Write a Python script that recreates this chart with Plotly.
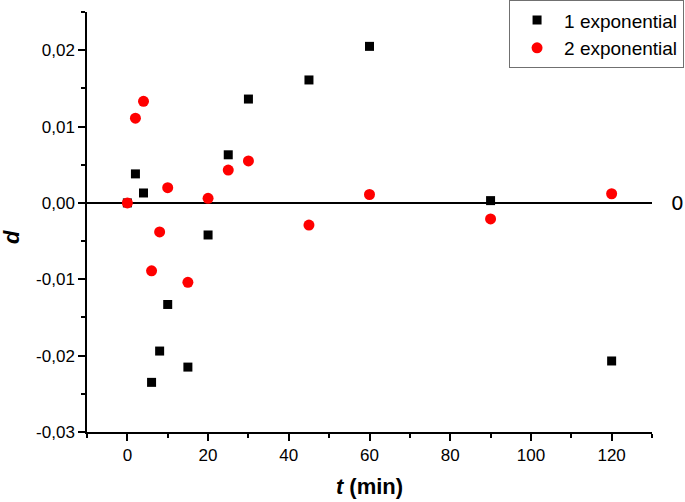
import plotly.graph_objects as go

t_min = [0, 2, 4, 6, 8, 10, 15, 20, 25, 30, 45, 60, 90, 120]
d_one_exp = [0.0, 0.0038, 0.0013, -0.0235, -0.0194, -0.0133, -0.0215, -0.0042,
             0.0063, 0.0136, 0.0161, 0.0205, 0.0003, -0.0207]
d_two_exp = [0.0, 0.0111, 0.0133, -0.0089, -0.0038, 0.0020, -0.0104, 0.0006,
             0.0043, 0.0055, -0.0029, 0.0011, -0.0021, 0.0012]

y_tickvals = [-0.03, -0.02, -0.01, 0.0, 0.01, 0.02]
y_ticktext = ["-0,03", "-0,02", "-0,01", "0,00", "0,01", "0,02"]
x_tickvals = [0, 20, 40, 60, 80, 100, 120]
x_ticktext = ["0", "20", "40", "60", "80", "100", "120"]

FONT = "Liberation Sans, Arial, sans-serif"

fig = go.Figure()
fig.add_trace(go.Scatter(
    x=t_min, y=d_one_exp, mode="markers", name="1 exponential",
    marker=dict(symbol="square", size=9, color="black", line=dict(width=0)),
))
fig.add_trace(go.Scatter(
    x=t_min, y=d_two_exp, mode="markers", name="2 exponential",
    marker=dict(symbol="circle", size=11, color="#ff0000", line=dict(width=0)),
))

fig.update_layout(
    width=685, height=502,
    margin=dict(l=87, r=33, t=12, b=70, autoexpand=False),
    paper_bgcolor="white", plot_bgcolor="white",
    font=dict(family=FONT, size=17, color="black"),
    showlegend=True,
    legend=dict(
        x=0.747, xref="paper", y=1.028, yref="paper",
        xanchor="left", yanchor="top",
        bgcolor="white", bordercolor="#707070", borderwidth=1,
        font=dict(size=19, family=FONT),
        tracegroupgap=0, itemwidth=44,
    ),
    xaxis=dict(
        range=[-10, 130], showgrid=False, zeroline=False,
        showline=True, linecolor="black", linewidth=1.5,
        ticks="outside", ticklen=7, tickwidth=1.5, tickcolor="black",
        tickvals=x_tickvals, ticktext=x_ticktext,
        minor=dict(dtick=10, tick0=0, ticks="outside", ticklen=4, tickwidth=1.5, tickcolor="black"),
        title=dict(text="<b><i>t</i> (min)</b>", font=dict(size=22, family=FONT), standoff=14),
    ),
    yaxis=dict(
        range=[-0.03, 0.025], showgrid=False,
        zeroline=True, zerolinecolor="black", zerolinewidth=2,
        showline=True, linecolor="black", linewidth=1.5,
        ticks="outside", ticklen=7, tickwidth=1.5, tickcolor="black",
        tickvals=y_tickvals, ticktext=y_ticktext,
        minor=dict(dtick=0.005, tick0=0, ticks="outside", ticklen=4, tickwidth=1.5, tickcolor="black"),
    ),
)

fig.add_annotation(
    text="<b><i>d</i></b>", xref="paper", yref="paper", x=-0.134, y=0.465,
    showarrow=False, textangle=-90, font=dict(size=22, family=FONT),
    xanchor="center", yanchor="middle",
)
fig.add_annotation(
    text="0", xref="paper", yref="y", x=1.0, y=0,
    showarrow=False, xanchor="left", yanchor="middle", xshift=17,
    font=dict(size=20, family="DejaVu Sans, sans-serif"),
)

fig.write_html("out.html", config={"displayModeBar": False},
               post_script="document.body.style.margin='0';")
